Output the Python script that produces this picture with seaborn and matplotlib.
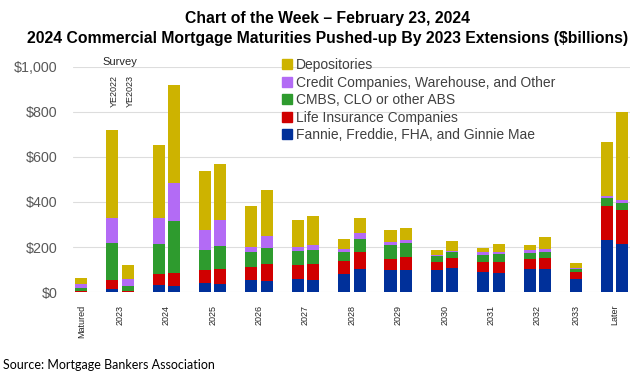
import matplotlib
matplotlib.use("Agg")
import matplotlib.pyplot as plt
from matplotlib.patches import Patch
import seaborn as sns
import pandas as pd
import numpy as np

# 数据 (单位: 十亿美元), 每根柱子的顺序
bar_year = ['Matured', '2023', '2023', '2024', '2024', '2025', '2025', '2026', '2026',
            '2027', '2027', '2028', '2028', '2029', '2029', '2030', '2030', '2031', '2031',
            '2032', '2032', '2033', 'Later', 'Later']
bar_survey = ['YE2023', 'YE2022', 'YE2023', 'YE2022', 'YE2023', 'YE2022', 'YE2023',
              'YE2022', 'YE2023', 'YE2022', 'YE2023', 'YE2022', 'YE2023', 'YE2022', 'YE2023',
              'YE2022', 'YE2023', 'YE2022', 'YE2023', 'YE2022', 'YE2023', 'YE2023',
              'YE2022', 'YE2023']

fannie = [2, 13, 1, 30, 25, 40, 37, 53, 49, 56, 52, 80, 101, 98, 98, 96, 107, 87, 83,
          104, 104, 59, 232, 215]
life = [1, 42, 3, 48, 61, 56, 65, 58, 77, 62, 71, 56, 78, 50, 59, 39, 44, 45, 49,
        43, 45, 30, 148, 148]
cmbs = [13, 161, 24, 135, 229, 89, 104, 65, 68, 63, 62, 40, 58, 61, 61, 23, 25, 34, 35,
        28, 30, 12, 36, 32]
credit = [19, 114, 31, 117, 170, 92, 114, 24, 55, 19, 25, 15, 25, 13, 14, 6, 8, 12, 11,
          10, 12, 4, 10, 12]
depositories = [29, 392, 59, 324, 437, 259, 250, 180, 205, 118, 129, 46, 68, 52, 54,
                21, 42, 17, 34, 25, 52, 22, 240, 395]

series_names = ['Fannie, Freddie, FHA, and Ginnie Mae', 'Life Insurance Companies',
                'CMBS, CLO or other ABS', 'Credit Companies, Warehouse, and Other',
                'Depositories']
series_colors = ['#00309A', '#D00000', '#2E9B2E', '#B36BF5', '#CDB300']
y_ticks = [0, 200, 400, 600, 800, 1000]
y_tick_labels = ['$0', '$200', '$400', '$600', '$800', '$1,000']

# 计算柱子位置: 组内相邻, 组间空一格
pos = []
p = 0
for i, yr in enumerate(bar_year):
    if i > 0:
        p += 1 if yr == bar_year[i - 1] else 2
    pos.append(p)

df = pd.DataFrame({'pos': pos, 'year': bar_year, 'survey': bar_survey})
vals = np.array([fannie, life, cmbs, credit, depositories])
cum = vals.cumsum(axis=0)

sns.set_theme(style='white')
plt.rcParams['font.family'] = ['Liberation Sans', 'DejaVu Sans']

fig = plt.figure(figsize=(6.39, 3.78), dpi=100)
ax = fig.add_axes([0.114, 0.2275, 0.872, 0.5953])

# 从上往下画累计柱子
for k in range(len(series_names) - 1, -1, -1):
    df['top'] = cum[k]
    sns.barplot(data=df, x='pos', y='top', native_scale=True, orient='x', color=series_colors[k],
                saturation=1, width=0.78, linewidth=0, errorbar=None, ax=ax, zorder=3)

ax.set_ylim(0, 1000)
ax.set_xlim(-0.55, pos[-1] + 0.5)
ax.set_yticks(y_ticks)
ax.set_yticklabels(y_tick_labels, fontsize=10.3, color='#595959')
ax.grid(axis='y', color='#DDDDDD', linewidth=0.8, zorder=0)
for s in ax.spines.values():
    s.set_visible(False)

# x轴标签放在每组中心
centers = df.groupby('year', sort=False)['pos'].mean()
ax.set_xticks(centers.values)
ax.set_xticklabels(centers.index, rotation=90, fontsize=6.5, color='#262626')
ax.tick_params(axis='x', length=0, pad=9)
ax.tick_params(axis='y', length=0, pad=11)
ax.set_xlabel('')
ax.set_ylabel('')

# Survey 标注
first23 = df[df['year'] == '2023']['pos'].values
ax.text(first23.mean(), 998, 'Survey', ha='center', va='bottom', fontsize=8, color='#262626')
for x, s in zip(first23, ['YE2022', 'YE2023']):
    ax.text(x + 0.15, 965, s, ha='center', va='top', rotation=90, fontsize=6.5, color='#262626')

# 图例
handles = [Patch(color=series_colors[k], label=series_names[k]) for k in range(4, -1, -1)]
fig.legend(handles=handles, loc='upper left', bbox_to_anchor=(0.433, 0.861), frameon=False,
           fontsize=10, handlelength=0.7, handleheight=0.7, handletextpad=0.3,
           labelspacing=0.25, borderaxespad=0, labelcolor='#404040')

fig.text(0.512, 0.952, 'Chart of the Week \u2013 February 23, 2024', ha='center', va='center',
         fontsize=11.3, fontweight='bold', color='black')
fig.text(0.512, 0.899, '2024 Commercial Mortgage Maturities Pushed-up By 2023 Extensions ($billions)',
         ha='center', va='center', fontsize=11.3, fontweight='bold', color='black')
fig.text(0.005, 0.035, 'Source: Mortgage Bankers Association', ha='left', va='center',
         fontsize=9, family=['Lato', 'DejaVu Sans'], color='black')

fig.savefig('out.png', dpi=100)
